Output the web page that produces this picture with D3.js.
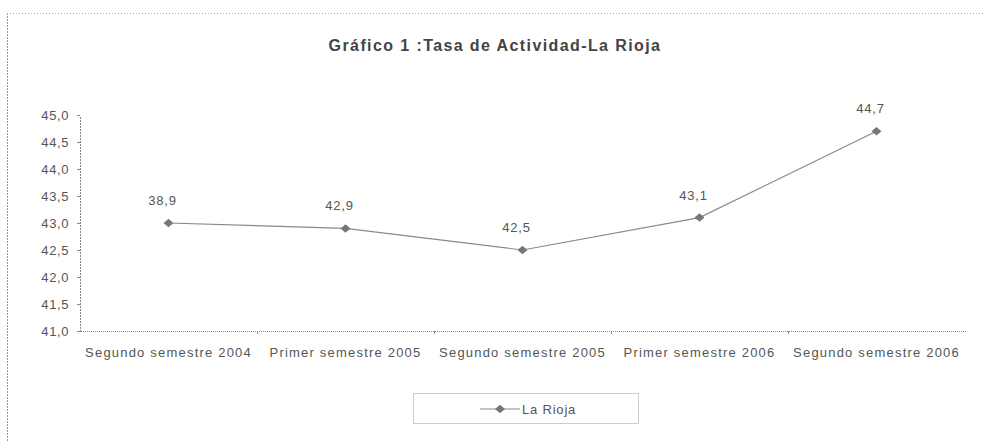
<!DOCTYPE html>
<html lang="es">
  <head>
    <meta charset="utf-8">
    <title>Tasa de Actividad-La Rioja</title>
    <style>
    body { margin: 0; background: #fff; }
    text { font-family: "Liberation Sans", Arial, sans-serif; }
    .axis path, .axis line { fill: none; stroke: #888; shape-rendering: crispEdges; }
    .axis text { font-size: 13px; fill: #555; }
    </style>
    <script type="text/javascript" src="https://cdn.jsdelivr.net/npm/d3@7/dist/d3.min.js"></script>
  </head>
  <body>
    <script type="text/javascript">

      // Datos del gráfico
      var categories = ["Segundo semestre 2004", "Primer semestre 2005", "Segundo semestre 2005",
                        "Primer semestre 2006", "Segundo semestre 2006"];
      var values = [43.0, 42.9, 42.5, 43.1, 44.7];
      // etiquetas tal como aparecen en el original (la primera no coincide con el punto)
      var valueLabels = ["38,9", "42,9", "42,5", "43,1", "44,7"];
      var yTicks = [41.0, 41.5, 42.0, 42.5, 43.0, 43.5, 44.0, 44.5, 45.0];
      var seriesName = "La Rioja";
      var title = "Gráfico 1 :Tasa de Actividad-La Rioja";

      var width = 984, height = 441;
      var svg = d3.select("body").append("svg")
          .attr("width", width)
          .attr("height", height);

      // marco exterior punteado
      svg.append("line")
          .attr("x1", 7.5).attr("x2", 7.5).attr("y1", 13).attr("y2", height)
          .attr("stroke", "#999").attr("stroke-dasharray", "2,1");
      svg.append("line")
          .attr("x1", 7).attr("x2", width).attr("y1", 13.5).attr("y2", 13.5)
          .attr("stroke", "#aaa").attr("stroke-dasharray", "1,2");

      svg.append("text")
          .attr("x", 495).attr("y", 51)
          .attr("text-anchor", "middle")
          .attr("font-size", "16px").attr("font-weight", "bold")
          .attr("letter-spacing", "1.4px")
          .attr("fill", "#444")
          .text(title);

      var x = d3.scaleBand().domain(categories).range([80, 965]);
      var y = d3.scaleLinear().domain([41, 45]).range([331, 115]);
      var cx = function(d, i) { return x(categories[i]) + x.bandwidth() / 2; };

      // eje Y
      var yAxis = svg.append("g")
          .attr("class", "axis")
          .attr("transform", "translate(80,0)")
          .call(d3.axisLeft(y).tickValues(yTicks).tickSize(3).tickSizeOuter(0)
                .tickFormat(function(d) { return d3.format(".1f")(d).replace(".", ","); }));
      yAxis.select(".domain").attr("stroke-dasharray", "2,1");
      yAxis.selectAll("text").attr("x", -11).attr("letter-spacing", "0.6px");

      // eje X, marcas entre categorías
      var xAxis = svg.append("g")
          .attr("class", "axis")
          .attr("transform", "translate(0,331)")
          .call(d3.axisBottom(x).tickSize(0).tickSizeOuter(0));
      xAxis.select(".domain").attr("stroke-dasharray", "1,1");
      xAxis.selectAll("text").attr("y", 26).attr("dy", 0).attr("letter-spacing", "1.2px");
      xAxis.selectAll(".sep")
          .data(categories.slice(1))
          .enter().append("line")
          .attr("x1", function(d) { return x(d) + 0.5; })
          .attr("x2", function(d) { return x(d) + 0.5; })
          .attr("y1", 0).attr("y2", 3)
          .attr("stroke", "#888");

      // serie
      var line = d3.line()
          .x(function(d, i) { return cx(d, i); })
          .y(function(d) { return y(d); });
      svg.append("path")
          .datum(values)
          .attr("d", line)
          .attr("fill", "none")
          .attr("stroke", "#8a8a8a")
          .attr("stroke-width", 1.2);

      // rombo tipo Excel, algo más ancho que alto
      var excelDiamond = {
        draw: function(ctx, size) {
          var w = Math.sqrt(size) * 0.72, h = w * 0.85;
          ctx.moveTo(0, -h); ctx.lineTo(w, 0); ctx.lineTo(0, h); ctx.lineTo(-w, 0); ctx.closePath();
        }
      };
      var diamond = d3.symbol().type(excelDiamond).size(48);
      svg.selectAll(".marker")
          .data(values)
          .enter().append("path")
          .attr("class", "marker")
          .attr("d", diamond)
          .attr("fill", "#777")
          .attr("transform", function(d, i) { return "translate(" + cx(d, i) + "," + y(d) + ")"; });

      svg.selectAll(".vlabel")
          .data(values)
          .enter().append("text")
          .attr("class", "vlabel")
          .attr("x", function(d, i) { return cx(d, i) - 6; })
          .attr("y", function(d) { return y(d) - 18; })
          .attr("text-anchor", "middle")
          .attr("font-size", "13px")
          .attr("letter-spacing", "0.8px")
          .attr("fill", "#555")
          .text(function(d, i) { return valueLabels[i]; });

      // leyenda
      var lg = svg.append("g");
      lg.append("rect")
          .attr("x", 413.5).attr("y", 393.5).attr("width", 225).attr("height", 30)
          .attr("fill", "none").attr("stroke", "#999").attr("stroke-dasharray", "1,1");
      lg.append("line")
          .attr("x1", 480).attr("x2", 520).attr("y1", 409).attr("y2", 409)
          .attr("stroke", "#8a8a8a").attr("stroke-width", 1.2);
      lg.append("path")
          .attr("d", diamond)
          .attr("fill", "#777")
          .attr("transform", "translate(500,409)");
      lg.append("text")
          .attr("x", 522).attr("y", 414)
          .attr("font-size", "13px")
          .attr("letter-spacing", "0.8px")
          .attr("fill", "#555")
          .text(seriesName);

    </script>
  </body>
</html>
